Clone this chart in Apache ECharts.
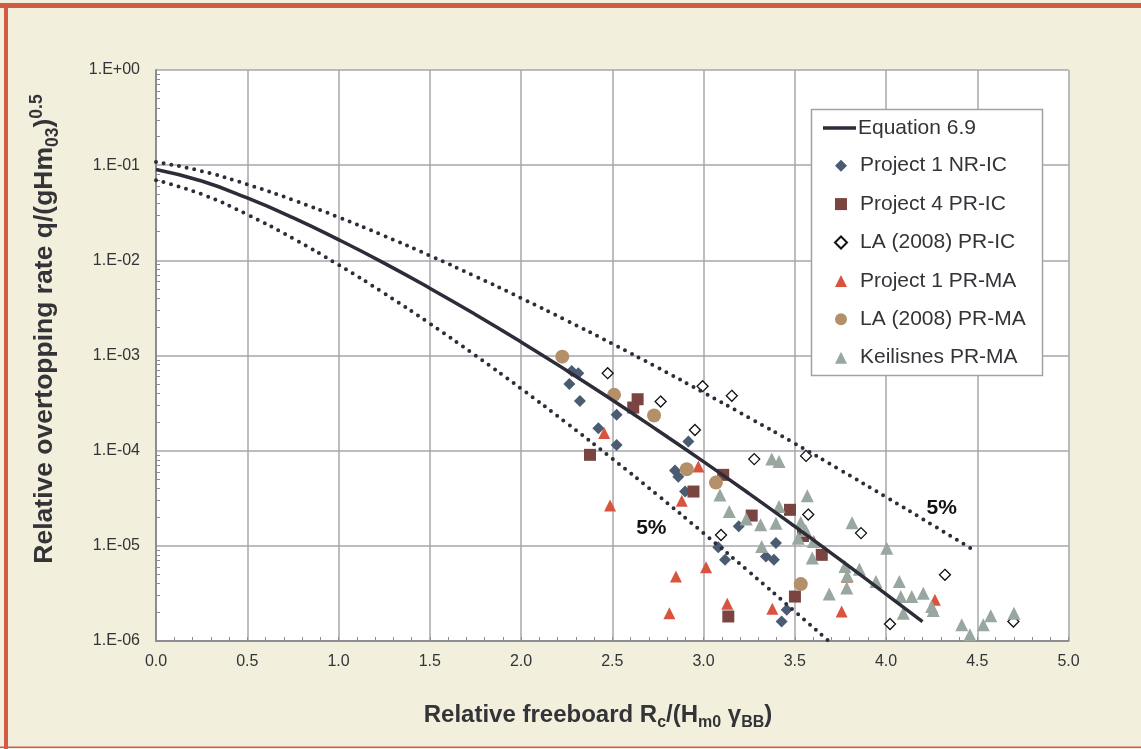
<!DOCTYPE html>
<html><head><meta charset="utf-8">
<script src="https://cdn.jsdelivr.net/npm/echarts@6/dist/echarts.min.js"></script>
<style>html,body{margin:0;padding:0;background:#f2f0dd;}#c{width:1141px;height:749px;}</style>
</head><body><div id="c"></div>
<script>
// ---- Curves ----
const eqX = [0, 0.25, 0.5, 0.75, 1.0, 1.25, 1.5, 1.75, 2.0, 2.25, 2.5, 2.75, 3.0, 3.25, 3.5, 3.75, 4.0, 4.2];
const eqY = [0.09, 0.0681, 0.0452, 0.0281, 0.0165, 0.00935, 0.0051, 0.0027, 0.00139, 0.000697, 0.000341, 0.000163, 7.68e-5, 3.54e-5, 1.6e-5, 7.11e-6, 3.11e-6, 1.6e-6];
const upX = [0, 0.25, 0.5, 0.75, 1.0, 1.25, 1.5, 1.75, 2.0, 2.25, 2.5, 2.75, 3.0, 3.25, 3.5, 3.75, 4.0, 4.25, 4.47];
const upY = [0.108, 0.0866, 0.0628, 0.0431, 0.0284, 0.0181, 0.01122, 0.00679, 0.00402, 0.002334, 0.001329, 0.000744, 0.000409, 0.000222, 0.000119, 6.26e-5, 3.26e-5, 1.68e-5, 9.27e-6];
const loX = [0, 0.25, 0.5, 0.75, 1.0, 1.25, 1.5, 1.75, 2.0, 2.25, 2.5, 2.75, 3.0, 3.25, 3.5, 3.68];
const loY = [0.0695, 0.0496, 0.0303, 0.017, 0.00897, 0.00451, 0.002168, 0.001004, 0.00045, 0.000195, 8.25e-5, 3.39e-5, 1.36e-5, 5.33e-6, 2.05e-6, 1.02e-6];

// ---- Measured points ----
const p1nrX = [2.278, 2.314, 2.265, 2.323, 2.524, 2.424, 2.524, 2.917, 2.844, 2.862, 2.899, 3.081, 3.118, 3.193, 3.397, 3.342, 3.386, 3.456, 3.428];
const p1nrY = [6.89e-4, 6.52e-4, 5.03e-4, 3.33e-4, 2.38e-4, 1.72e-4, 1.15e-4, 1.25e-4, 6.18e-5, 5.31e-5, 3.72e-5, 9.64e-6, 7.13e-6, 1.61e-5, 1.07e-5, 7.73e-6, 7.13e-6, 2.13e-6, 1.6e-6];

const p4prX = [2.639, 2.615, 2.378, 2.945, 3.108, 3.264, 3.474, 3.545, 3.648, 3.501, 3.136];
const p4prY = [3.47e-4, 2.84e-4, 9.04e-5, 3.72e-5, 5.57e-5, 2.08e-5, 2.39e-5, 1.27e-5, 8.04e-6, 2.93e-6, 1.81e-6];

const laprX = [2.475, 2.995, 3.155, 2.765, 2.953, 3.278, 3.562, 3.574, 3.096, 3.863, 4.323, 4.022, 4.698];
const laprY = [6.52e-4, 4.76e-4, 3.77e-4, 3.28e-4, 1.65e-4, 8.15e-5, 8.81e-5, 2.13e-5, 1.3e-5, 1.36e-5, 4.96e-6, 1.51e-6, 1.6e-6];

const p1maX = [2.456, 2.972, 2.881, 2.488, 3.014, 2.849, 2.813, 3.130, 3.377, 3.757, 4.268, 3.605, 3.785];
const p1maY = [1.53e-4, 6.81e-5, 2.97e-5, 2.66e-5, 5.97e-6, 4.76e-6, 1.96e-6, 2.46e-6, 2.18e-6, 2.04e-6, 2.71e-6, 1.11e-5, 4.72e-6];

const lamaX = [2.226, 2.510, 2.729, 2.908, 3.068, 3.533];
const lamaY = [9.73e-4, 3.86e-4, 2.34e-4, 6.39e-5, 4.62e-5, 3.96e-6];

const keilX = [3.374, 3.414, 3.090, 3.569, 3.141, 3.414, 3.234, 3.313, 3.397, 3.533, 3.814, 3.560, 3.519, 3.602, 3.319, 3.596, 3.775, 3.854, 3.788, 3.945, 3.785, 3.689, 4.004, 4.073, 4.081, 4.141, 4.204, 4.250, 4.259, 4.095, 4.415, 4.460, 4.533, 4.574, 4.701];
const keilY = [8.15e-5, 7.69e-5, 3.43e-5, 3.35e-5, 2.29e-5, 2.59e-5, 1.91e-5, 1.67e-5, 1.73e-5, 1.76e-5, 1.75e-5, 1.45e-5, 1.2e-5, 1.11e-5, 9.84e-6, 7.43e-6, 6.07e-6, 5.66e-6, 4.84e-6, 4.22e-6, 3.6e-6, 3.11e-6, 9.46e-6, 4.22e-6, 2.93e-6, 2.93e-6, 3.18e-6, 2.3e-6, 2.09e-6, 1.96e-6, 1.48e-6, 1.16e-6, 1.48e-6, 1.84e-6, 1.96e-6];

// ---- Annotations and ticks ----
const pctLabels = ['5%', '5%'];
const pctX = [2.714, 4.305];
const pctY = [1.52e-5, 2.51e-5];
const yTickLabels = ['1.E-06', '1.E-05', '1.E-04', '1.E-03', '1.E-02', '1.E-01', '1.E+00'];
const yMinorTicks = [
  2e-6, 3e-6, 4e-6, 5e-6, 6e-6, 7e-6, 8e-6, 9e-6,
  2e-5, 3e-5, 4e-5, 5e-5, 6e-5, 7e-5, 8e-5, 9e-5,
  2e-4, 3e-4, 4e-4, 5e-4, 6e-4, 7e-4, 8e-4, 9e-4,
  2e-3, 3e-3, 4e-3, 5e-3, 6e-3, 7e-3, 8e-3, 9e-3,
  0.02, 0.03, 0.04, 0.05, 0.06, 0.07, 0.08, 0.09,
  0.2, 0.3, 0.4, 0.5, 0.6, 0.7, 0.8, 0.9
];
const xTickLabels = ['0.0', '0.5', '1.0', '1.5', '2.0', '2.5', '3.0', '3.5', '4.0', '4.5', '5.0'];
const seriesNames = ['Equation 6.9', 'Project 1 NR-IC', 'Project 4 PR-IC', 'LA (2008) PR-IC', 'Project 1 PR-MA', 'LA (2008) PR-MA', 'Keilisnes PR-MA'];

const zip = (a, b) => a.map((v, i) => [v, b[i]]);
const FONT = "'Liberation Sans', Arial, Helvetica, sans-serif";
const TXT = '#333338';

const chart = echarts.init(document.getElementById('c'), null, {renderer: 'canvas'});

function scatter(name, xs, ys, symbol, size, color, extra) {
  return Object.assign({
    name, type: 'scatter', data: zip(xs, ys), symbol, symbolSize: size, z: 2,
    itemStyle: {color: color, opacity: 1}, emphasis: {disabled: true}
  }, extra || {});
}

const option = {
  backgroundColor: '#f2f0dd',
  animation: false,
  textStyle: {fontFamily: FONT},
  grid: {left: 156, right: 72.5, top: 70, bottom: 108, show: true, backgroundColor: '#ffffff', borderWidth: 0},
  xAxis: {
    type: 'value', min: 0, max: 5, interval: 0.5,
    axisLine: {show: true, onZero: false, lineStyle: {color: '#8c8c93', width: 2}},
    axisTick: {show: true, inside: true, length: 4, lineStyle: {color: '#8c8c93', width: 1}},
    minorTick: {show: true, splitNumber: 5, length: 4, lineStyle: {color: '#8c8c93', width: 1}},
    splitLine: {show: true, lineStyle: {color: '#a6a6ac', width: 1.5}},
    axisLabel: {fontSize: 16, color: TXT, margin: 13, fontFamily: FONT,
      formatter: v => xTickLabels[Math.round(v / 0.5)] || ''}
  },
  yAxis: [
    {
      type: 'log', logBase: 10, min: 1e-6, max: 1,
      axisLine: {show: true, lineStyle: {color: '#8c8c93', width: 2}},
      axisTick: {show: false},
      minorTick: {show: false},
      splitLine: {show: true, lineStyle: {color: '#a6a6ac', width: 1.5}},
      axisLabel: {fontSize: 16, color: TXT, margin: 16, fontFamily: FONT,
        formatter: v => yTickLabels[Math.round(Math.log10(v)) + 6] || ''}
    },
    {
      type: 'log', logBase: 10, min: 1e-6, max: 1, position: 'left', offset: 0,
      axisLine: {show: false},
      axisTick: {show: true, inside: true, length: 4, customValues: yMinorTicks, lineStyle: {color: '#8c8c93', width: 1}},
      minorTick: {show: false},
      splitLine: {show: false},
      axisLabel: {show: false}
    }
  ],
  legend: [
    {data: [{name: seriesNames[0], icon: 'rect'}], left: 823, top: 116, itemWidth: 33, itemHeight: 3.5, padding: 0,
     selectedMode: false, textStyle: {fontSize: 21, lineHeight: 24, color: TXT, fontFamily: FONT, padding: [0, 0, 0, -3]}},
    {data: seriesNames.slice(1), orient: 'vertical', left: 834, top: 153.7, itemWidth: 12, itemHeight: 12,
     itemGap: 14.4, padding: 0, selectedMode: false,
     textStyle: {fontSize: 21, lineHeight: 24, color: TXT, fontFamily: FONT, padding: [0, 0, 0, 8]}}
  ],
  graphic: [
    {type: 'rect', shape: {x: 0, y: 3, width: 1141, height: 5}, style: {fill: '#d35a45'}, z: 10},
    {type: 'rect', shape: {x: 4, y: 3, width: 4, height: 746}, style: {fill: '#d35a45'}, z: 10},
    {type: 'rect', shape: {x: 0, y: 746.5, width: 1141, height: 1.5}, style: {fill: '#d35a45'}, z: 10},
    {type: 'rect', shape: {x: 811.5, y: 109.5, width: 231, height: 266}, style: {fill: '#ffffff', stroke: '#a2a2a6', lineWidth: 1.5}, z: 3},
    {type: 'text', x: 598, y: 715, z: 10,
     style: {text: '{m|Relative freeboard R}{s|c}{m|/(H}{s|m0}{m| γ}{s|BB}{m|)}', align: 'center', verticalAlign: 'middle',
       rich: {
         m: {fontSize: 24, fontWeight: 'bold', fill: TXT, fontFamily: FONT, lineHeight: 32, verticalAlign: 'middle'},
         s: {fontSize: 16, fontWeight: 'bold', fill: TXT, fontFamily: FONT, lineHeight: 20, verticalAlign: 'bottom'}
       }}},
    {type: 'text', x: 45, y: 329, rotation: Math.PI / 2, z: 10,
     style: {text: '{m|Relative overtopping rate q/(gHm}{s|03}{m|)}{p|0.5}', align: 'center', verticalAlign: 'middle',
       rich: {
         m: {fontSize: 26.5, fontWeight: 'bold', fill: TXT, fontFamily: FONT, lineHeight: 34, verticalAlign: 'middle'},
         s: {fontSize: 17.5, fontWeight: 'bold', fill: TXT, fontFamily: FONT, lineHeight: 21, verticalAlign: 'bottom'},
         p: {fontSize: 17.5, fontWeight: 'bold', fill: TXT, fontFamily: FONT, lineHeight: 21, verticalAlign: 'top'}
       }}}
  ],
  series: [
    scatter(seriesNames[1], p1nrX, p1nrY, 'diamond', 12, '#4b5b72'),
    scatter(seriesNames[2], p4prX, p4prY, 'rect', 12, '#7a4540'),
    scatter(seriesNames[3], laprX, laprY, 'diamond', 11, '#ffffff', {itemStyle: {color: '#ffffff', borderColor: '#111111', borderWidth: 1.3, opacity: 1}}),
    scatter(seriesNames[4], p1maX, p1maY, 'triangle', 12, '#d9543e'),
    scatter(seriesNames[5], lamaX, lamaY, 'circle', 14, '#b39069'),
    scatter(seriesNames[6], keilX, keilY, 'triangle', 13, '#98a79f'),
    {name: seriesNames[0], type: 'line', data: zip(eqX, eqY), smooth: true, symbol: 'none', showSymbol: false, z: 4,
     lineStyle: {color: '#2d2d3a', width: 3.5}, itemStyle: {color: '#2d2d3a'}, emphasis: {disabled: true}},
    {name: 'upper 5%', type: 'line', data: zip(upX, upY), smooth: true, symbol: 'none', showSymbol: false, z: 4,
     lineStyle: {color: '#2d2d3a', width: 4, type: [0, 7.8], cap: 'round'}, emphasis: {disabled: true},
     markPoint: {symbol: 'circle', symbolSize: 0, silent: true,
       label: {show: true, position: 'inside', fontSize: 21, fontWeight: 'bold', color: '#111', fontFamily: FONT, formatter: p => p.name},
       data: [{name: pctLabels[1], coord: [pctX[1], pctY[1]]}]}},
    {name: 'lower 5%', type: 'line', data: zip(loX, loY), smooth: true, symbol: 'none', showSymbol: false, z: 4,
     lineStyle: {color: '#2d2d3a', width: 4, type: [0, 7.8], cap: 'round'}, emphasis: {disabled: true},
     markPoint: {symbol: 'circle', symbolSize: 0, silent: true,
       label: {show: true, position: 'inside', fontSize: 21, fontWeight: 'bold', color: '#111', fontFamily: FONT, formatter: p => p.name},
       data: [{name: pctLabels[0], coord: [pctX[0], pctY[0]]}]}}
  ]
};
chart.setOption(option);
</script>
</body></html>
